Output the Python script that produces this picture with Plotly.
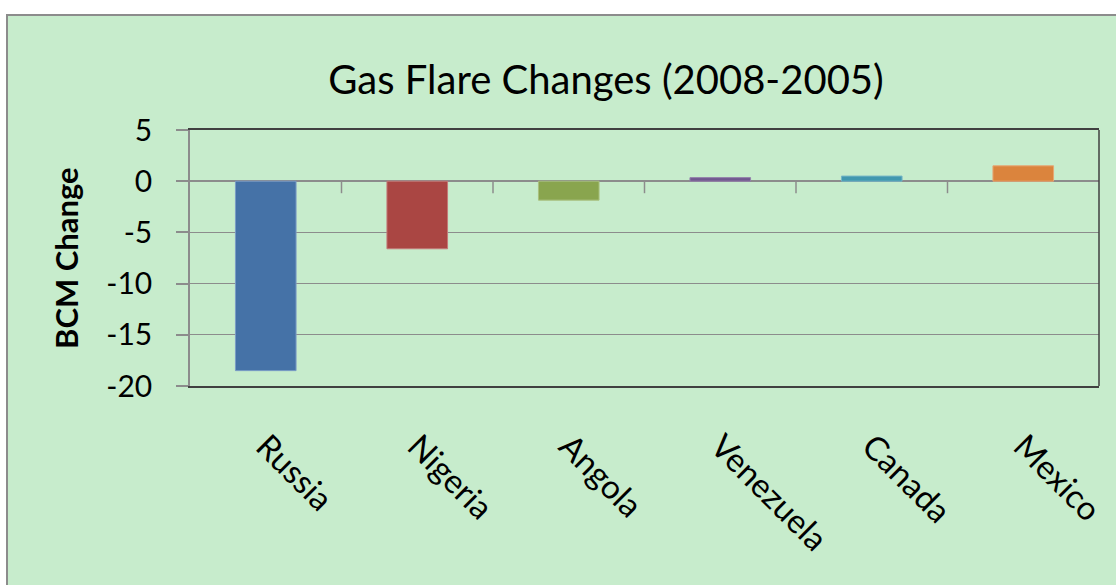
import plotly.graph_objects as go

countries = ["Russia", "Nigeria", "Angola", "Venezuela", "Canada", "Mexico"]
changes = [-18.5, -6.6, -1.85, 0.35, 0.5, 1.5]
colors = ["#4572A7", "#AA4643", "#89A54E", "#71588F", "#4198AF", "#DB843D"]
outline = ["#7A9CC6", "#C47A78", "#A9C07E", "#9583AB", "#76B5C7", "#E7A673"]
y_ticks = [5, 0, -5, -10, -15, -20]

BG = "#C7ECCC"
W, H = 1116, 585
L, R, T, B = 190, 17, 130, 199
pw, ph = W - L - R, H - T - B

fig = go.Figure(go.Bar(
    x=countries, y=changes,
    marker=dict(color=colors, line=dict(color=outline, width=1)),
    width=0.4,
))

font = "Lato, 'Open Sans', sans-serif"

# chart area background with border (extends past right/bottom edge)
fig.add_shape(type="rect", xref="paper", yref="paper",
              x0=(7 - L) / pw, x1=1.2, y0=-1.5, y1=1 + (T - 15) / ph,
              fillcolor=BG, line=dict(color="#8C8C8C", width=2), layer="below")

# category tick marks on the zero line
for i in range(len(countries) - 1):
    fig.add_shape(type="line", xref="x", yref="y", ysizemode="pixel", yanchor=0,
                  x0=i + 0.5, x1=i + 0.5, y0=0, y1=-12,
                  line=dict(color="#8C8C8C", width=1.5))
# right border of the plot area
fig.add_shape(type="line", xref="paper", yref="paper", x0=1, x1=1, y0=0, y1=1,
              line=dict(color="#404040", width=1.5))

fig.add_annotation(text="<b>BCM Change</b>", xref="paper", yref="paper",
                   x=(66 - L) / pw, y=0.5, xanchor="center", yanchor="middle",
                   textangle=-90, showarrow=False,
                   font=dict(family=font, size=31, color="black"))

fig.update_layout(
    width=W, height=H,
    margin=dict(l=L, r=R, t=T, b=B, autoexpand=False),
    paper_bgcolor="white", plot_bgcolor=BG,
    showlegend=False,
    bargap=0.6,
    title=dict(text="Gas Flare Changes (2008-2005)", x=606 / W, xanchor="center",
               y=1 - 80 / H, yanchor="middle",
               font=dict(family=font, size=40, color="black")),
    xaxis=dict(showline=True, linecolor="#404040", linewidth=1.5, mirror=True,
               tickangle=45, tickfont=dict(family=font, size=33, color="black"),
               ticks="", showgrid=False, ticklabelstandoff=26, automargin=False),
    yaxis=dict(range=[-20, 5], tickvals=y_ticks, ticktext=[str(v) for v in y_ticks],
               showline=True, linecolor="#8C8C8C", linewidth=1.5,
               ticks="outside", ticklen=12, tickcolor="#8C8C8C", tickwidth=1.5,
               showgrid=True, gridcolor="#8C8C8C", gridwidth=1.2,
               zeroline=True, zerolinecolor="#8C8C8C", zerolinewidth=1.5,
               tickfont=dict(family=font, size=30, color="black"),
               ticklabelstandoff=18, automargin=False),
)

fig.write_html("out.html", config={"displayModeBar": False},
               post_script="document.body.style.margin='0';")
